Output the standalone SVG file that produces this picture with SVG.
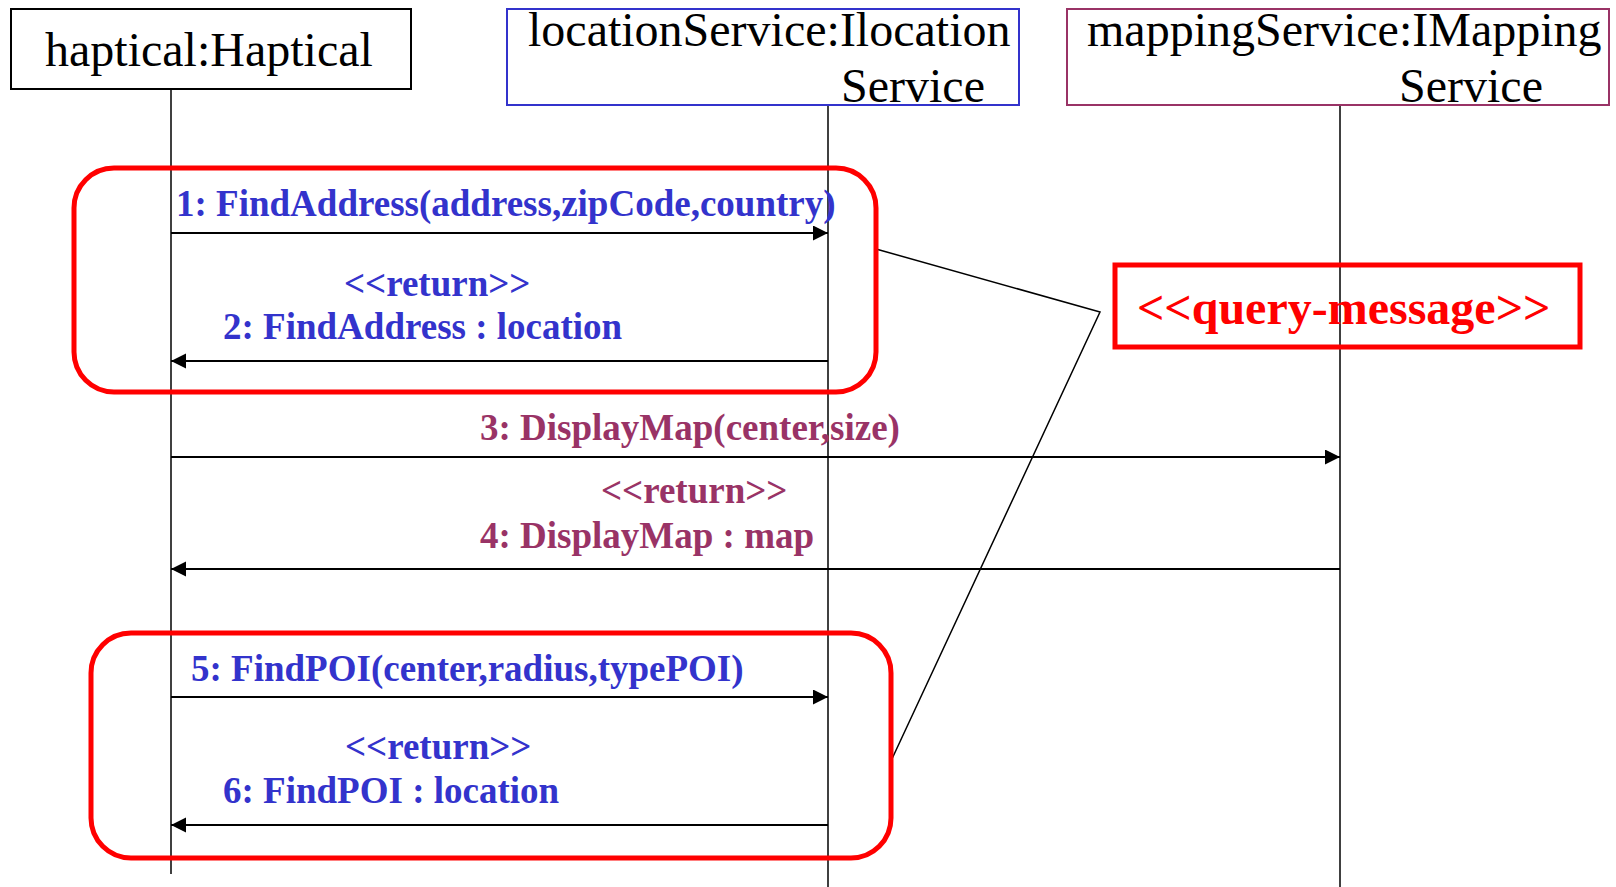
<svg xmlns="http://www.w3.org/2000/svg" width="1616" height="887" viewBox="0 0 1616 887">
  <style>
    .title { font-family: "Liberation Serif", "Times New Roman", serif; font-size: 48px; fill: #000; }
    .msg { font-family: "Liberation Serif", "Times New Roman", serif; font-size: 37px; font-weight: bold; }
    .blue { fill: #3333cc; }
    .plum { fill: #993366; }
    .lifeline { stroke: #000; stroke-width: 1.5; fill: none; }
    .call { stroke: #000; stroke-width: 2; fill: none; marker-end: url(#arrow); }
    .group { fill: none; stroke: #ff0000; stroke-width: 5; }
    .anchor { fill: none; stroke: #000; stroke-width: 1.5; }
  </style>
  <defs>
    <marker id="arrow" markerUnits="userSpaceOnUse" markerWidth="16" markerHeight="16" refX="15" refY="7.5" orient="auto">
      <path d="M0,0 L15,7.5 L0,15 z" fill="#000"/>
    </marker>
  </defs>
  <rect width="1616" height="887" fill="#fff"/>

  <!-- lifelines -->
  <g id="lifelines">
    <line class="lifeline" x1="171" y1="89" x2="171" y2="874"/>
    <line class="lifeline" x1="828" y1="105" x2="828" y2="887"/>
    <line class="lifeline" x1="1340" y1="105" x2="1340" y2="887"/>
  </g>

  <!-- participants -->
  <g id="haptical">
    <rect x="11" y="9" width="400" height="80" fill="#fff" stroke="#000" stroke-width="2"/>
    <text class="title" x="45" y="66">haptical:Haptical</text>
  </g>
  <g id="locationService">
    <rect x="507" y="9" width="512" height="96" fill="#fff" stroke="#3333cc" stroke-width="2"/>
    <text class="title" x="528" y="46">locationService:Ilocation</text>
    <text class="title" x="841" y="102">Service</text>
  </g>
  <g id="mappingService">
    <rect x="1067" y="9" width="542" height="96" fill="#fff" stroke="#993366" stroke-width="2"/>
    <text class="title" x="1087" y="46">mappingService:IMapping</text>
    <text class="title" x="1399" y="102">Service</text>
  </g>

  <!-- messages -->
  <g id="connectors">
    <line class="call" x1="171" y1="233" x2="828" y2="233"/>
    <line class="call" x1="828" y1="361" x2="171" y2="361"/>
    <line class="call" x1="171" y1="457" x2="1340" y2="457"/>
    <line class="call" x1="1340" y1="569" x2="171" y2="569"/>
    <line class="call" x1="171" y1="697" x2="828" y2="697"/>
    <line class="call" x1="828" y1="825" x2="171" y2="825"/>
    <!-- note anchors -->
    <polyline class="anchor" points="876,249 1100,312 891,761"/>
  </g>

  <g id="message-labels">
    <text class="msg blue" x="176" y="216">1: FindAddress(address,zipCode,country)</text>
    <text class="msg blue" x="344" y="296">&lt;&lt;return&gt;&gt;</text>
    <text class="msg blue" x="223" y="339">2: FindAddress : location</text>
    <text class="msg plum" x="480" y="440">3: DisplayMap(center,size)</text>
    <text class="msg plum" x="601" y="503">&lt;&lt;return&gt;&gt;</text>
    <text class="msg plum" x="480" y="548">4: DisplayMap : map</text>
    <text class="msg blue" x="191" y="681">5: FindPOI(center,radius,typePOI)</text>
    <text class="msg blue" x="345" y="759">&lt;&lt;return&gt;&gt;</text>
    <text class="msg blue" x="223" y="803">6: FindPOI : location</text>
  </g>

  <!-- query groups -->
  <g id="query-group-1">
    <rect class="group" x="74" y="168" width="802" height="224" rx="40" ry="40"/>
  </g>
  <g id="query-group-2">
    <rect class="group" x="91" y="633" width="800" height="225" rx="40" ry="40"/>
  </g>

  <g id="query-note">
    <rect x="1115" y="265" width="465" height="82" fill="none" stroke="#ff0000" stroke-width="5"/>
    <text x="1137" y="324" font-family="Liberation Serif, Times New Roman, serif" font-size="48" font-weight="bold" fill="#ff0000">&lt;&lt;query-message&gt;&gt;</text>
  </g>
</svg>
